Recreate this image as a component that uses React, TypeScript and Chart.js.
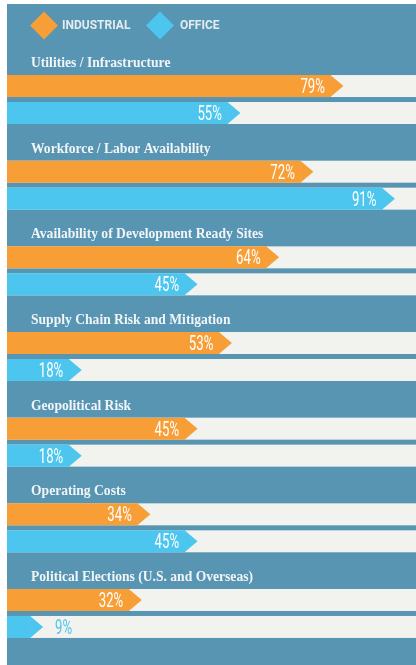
import React, { useEffect, useRef } from 'react';
import { Chart, registerables } from 'chart.js';

Chart.register(...registerables);

const categories = [
  'Utilities / Infrastructure',
  'Workforce / Labor Availability',
  'Availability of Development Ready Sites',
  'Supply Chain Risk and Mitigation',
  'Geopolitical Risk',
  'Operating Costs',
  'Political Elections (U.S. and Overseas)',
];
const industrial = [79, 72, 64, 53, 45, 34, 32];
const office = [55, 91, 45, 18, 18, 45, 9];
const seriesNames = ['INDUSTRIAL', 'OFFICE'];
const seriesColors = ['#f79e37', '#4cc6ee'];

const PANEL = '#5795b3';
const TRACK = '#f2f2ee';
const ARROW = 12.5;
const VAL_FONT = '400 20px Roboto';
const VAL_SX = 0.66;
const PANEL_LEFT_IN_CANVAS = 15; // visible panel starts here in canvas coords

const decor = {
  id: 'decor',
  beforeDatasetsDraw(chart: any) {
    const ctx = chart.ctx;
    const { left, right } = chart.chartArea;
    ctx.save();
    chart.data.datasets.forEach((_ds: any, di: number) => {
      const meta = chart.getDatasetMeta(di);
      meta.data.forEach((bar: any) => {
        const { y, height } = bar.getProps(['y', 'height'], true);
        ctx.fillStyle = TRACK;
        ctx.fillRect(left, y - height / 2, right - left, height);
      });
    });
    ctx.restore();
  },
  afterDatasetsDraw(chart: any) {
    const ctx = chart.ctx;
    ctx.save();
    // arrow heads and value labels
    chart.data.datasets.forEach((ds: any, di: number) => {
      const meta = chart.getDatasetMeta(di);
      meta.data.forEach((bar: any, i: number) => {
        const { x, y, height } = bar.getProps(['x', 'y', 'height'], true);
        const color = ds.backgroundColor;
        ctx.fillStyle = color;
        ctx.beginPath();
        ctx.moveTo(x - 0.5, y - height / 2);
        ctx.lineTo(x + ARROW, y);
        ctx.lineTo(x - 0.5, y + height / 2);
        ctx.closePath();
        ctx.fill();

        const txt = ds.data[i] + '%';
        ctx.font = VAL_FONT;
        const w = ctx.measureText(txt).width * VAL_SX;
        const base = y + 7;
        ctx.save();
        if (x - PANEL_LEFT_IN_CANVAS >= w + 12) {
          ctx.translate(x - 6, base);
          ctx.scale(VAL_SX, 1);
          ctx.textAlign = 'right';
          ctx.fillStyle = '#ffffff';
        } else {
          ctx.translate(x + ARROW + 12, base);
          ctx.scale(VAL_SX, 1);
          ctx.textAlign = 'left';
          ctx.fillStyle = color;
        }
        ctx.textBaseline = 'alphabetic';
        ctx.fillText(txt, 0, 0);
        ctx.restore();
      });
    });

    // category labels above each pair
    const meta0 = chart.getDatasetMeta(0);
    ctx.font = 'bold 13.6px "Liberation Serif"';
    ctx.fillStyle = '#f1f5f7';
    ctx.textAlign = 'left';
    ctx.textBaseline = 'alphabetic';
    meta0.data.forEach((bar: any, i: number) => {
      const { y, height } = bar.getProps(['y', 'height'], true);
      ctx.fillText(chart.data.labels[i], 39, y - height / 2 - 8);
    });

    // legend
    const legendPos = [
      { cx: 52, tx: 70 },
      { cx: 168, tx: 188 },
    ];
    chart.data.datasets.forEach((ds: any, di: number) => {
      const p = legendPos[di];
      const cy = 21.5;
      const r = 14;
      ctx.fillStyle = ds.backgroundColor;
      ctx.beginPath();
      ctx.moveTo(p.cx, cy - r);
      ctx.lineTo(p.cx + r, cy);
      ctx.lineTo(p.cx, cy + r);
      ctx.lineTo(p.cx - r, cy);
      ctx.closePath();
      ctx.fill();
      ctx.font = 'bold 12px Roboto';
      ctx.fillStyle = '#e4ecf0';
      ctx.fillText(ds.label, p.tx, 25);
    });
    ctx.restore();
  },
};

export default function App() {
  const ref = useRef<HTMLCanvasElement | null>(null);

  useEffect(() => {
    if (!ref.current) return;
    const chart = new Chart(ref.current, {
      type: 'bar',
      data: {
        labels: categories,
        datasets: [
          {
            label: seriesNames[0],
            data: industrial,
            backgroundColor: seriesColors[0],
            borderWidth: 0,
            categoryPercentage: 0.63,
            barPercentage: 0.815,
          },
          {
            label: seriesNames[1],
            data: office,
            backgroundColor: seriesColors[1],
            borderWidth: 0,
            categoryPercentage: 0.63,
            barPercentage: 0.815,
          },
        ],
      },
      options: {
        indexAxis: 'y',
        responsive: false,
        animation: false,
        layout: { padding: { top: 52.7, bottom: 8.7, left: 0, right: 0 } },
        scales: {
          x: { display: false, min: 0, max: 100 },
          y: { display: false },
        },
        plugins: {
          legend: { display: false },
          tooltip: { enabled: false },
        },
      },
      plugins: [decor],
    });
    return () => chart.destroy();
  }, []);

  return (
    <div
      style={{
        position: 'fixed',
        left: 7,
        top: 4,
        width: 409,
        height: 661,
        overflow: 'hidden',
        background: PANEL,
      }}
    >
      <canvas
        ref={ref}
        width={429}
        height={661}
        style={{ position: 'absolute', left: -15, top: 0, display: 'block' }}
      />
    </div>
  );
}
